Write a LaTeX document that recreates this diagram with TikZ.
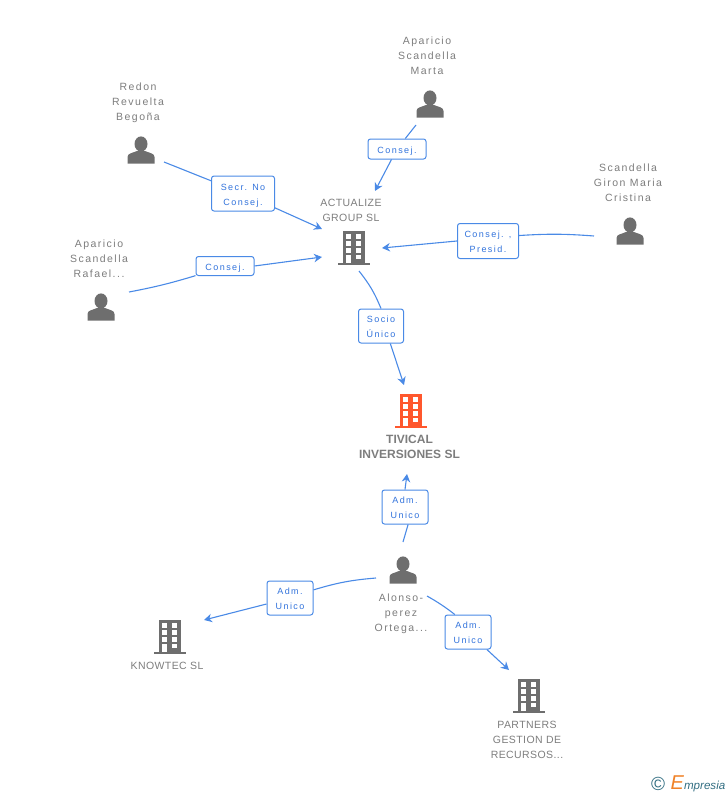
\documentclass[tikz,border=0pt]{standalone}
\usepackage{fontspec}
\usepackage{tikz}
\usetikzlibrary{arrows.meta,shapes}
\setmainfont{Liberation Sans}
\newfontfamily\namefont[LetterSpace=14]{Liberation Sans}
\newfontfamily\firmfont[LetterSpace=4]{Liberation Sans}
\newfontfamily\tagfont[LetterSpace=16]{Liberation Sans}
\definecolor{linkblue}{RGB}{74,138,230}
\definecolor{tagblue}{RGB}{50,115,220}
\definecolor{icongrey}{RGB}{110,110,110}
\definecolor{namegrey}{RGB}{125,125,125}
\definecolor{mainorange}{RGB}{255,87,45}
\definecolor{logoteal}{RGB}{50,110,130}
\definecolor{logoorange}{RGB}{240,130,40}
\tikzset{
  namelabel/.style={align=center,text=namegrey,font=\fontsize{10.5bp}{15bp}\selectfont\namefont,inner sep=0pt},
  firmlabel/.style={align=center,text=namegrey,font=\fontsize{10.5bp}{15bp}\selectfont\firmfont,inner sep=0pt},
  mainlabel/.style={align=center,text=namegrey,font=\fontsize{12bp}{15bp}\selectfont\bfseries,inner sep=0pt},
  taglabel/.style={draw=linkblue,line width=1bp,fill=white,rounded corners=2.5bp,align=center,text=tagblue,
    font=\fontsize{9bp}{15bp}\selectfont\tagfont,inner sep=0pt,text height=10bp},
  tagpair/.style={taglabel,text height=22.5bp},
  linkline/.style={draw=linkblue,line width=1.1bp},
  arrowline/.style={linkline,-{Stealth[length=8bp,width=8.5bp]}},
  personicon/.pic={
    \fill[icongrey] (0,6) ellipse (6.5 and 7.6);
    \fill[icongrey] (-13.5,-13.5) -- (-13.5,-7) .. controls (-13.5,-3) and (-8,-3) .. (-4,-1) -- (4,-1)
      .. controls (8,-3) and (13.5,-3) .. (13.5,-7) -- (13.5,-13.5) -- cycle;
  },
  buildingicon/.pic={
    \fill[pic actions] (-16,-17) rectangle (16,-14.7);
    \fill[pic actions] (-11.3,-16) rectangle (11.3,17);
    \foreach \wy in {8.7,2,-4.7} {
      \fill[white] (-7.7,\wy) rectangle (-2.7,\wy+5);
      \fill[white] (2,\wy) rectangle (7,\wy+5);
    }
    \fill[white] (-7.7,-14.7) rectangle (-2.7,-7);
    \fill[white] (2,-11.3) rectangle (7,-7);
  }
}

\begin{document}
\begin{tikzpicture}[x=1bp,y=1bp]
\useasboundingbox (0bp,0bp) rectangle (728bp,-795bp);

% people
\pic at (430bp,-104bp) {personicon};
\pic at (141bp,-150bp) {personicon};
\pic at (101bp,-307bp) {personicon};
\pic at (630bp,-231bp) {personicon};
\pic at (403bp,-570bp) {personicon};
% companies
\pic[fill=icongrey] at (354bp,-248bp) {buildingicon};
\pic[fill=mainorange] at (411bp,-411bp) {buildingicon};
\pic[fill=icongrey] at (170bp,-637bp) {buildingicon};
\pic[fill=icongrey] at (529bp,-696bp) {buildingicon};

\node (Marta) at (427bp,-56bp)[namelabel] {Aparicio\\Scandella\\Marta};
\node (Begona) at (138bp,-102.5bp)[namelabel] {Redon\\Revuelta\\Begoña};
\node (Rafael) at (99bp,-259bp)[namelabel] {Aparicio\\Scandella\\Rafael...};
\node (Cristina) at (628bp,-183bp)[namelabel] {Scandella\\Giron Maria\\Cristina};
\node (Alonso) at (401bp,-614bp)[namelabel] {Alonso-\\perez\\Ortega...};
\node (Actualize) at (351bp,-210bp)[firmlabel] {ACTUALIZE\\GROUP SL};
\node (Tivical) at (409.5bp,-447bp)[mainlabel] {TIVICAL\\INVERSIONES SL};
\node (Knowtec) at (167bp,-666bp)[firmlabel] {KNOWTEC SL};
\node (Partners) at (527bp,-740bp)[firmlabel] {PARTNERS\\GESTION DE\\RECURSOS...};

\node (TagMarta) at (397bp,-149bp)[taglabel,minimum width=58bp,minimum height=20bp] {Consej.};
\node (TagBegona) at (243bp,-193.5bp)[taglabel,text height=25bp,minimum width=63bp,minimum height=35bp] {Secr. No\\Consej.};
\node (TagRafael) at (225bp,-266bp)[taglabel,minimum width=58bp,minimum height=19bp] {Consej.};
\node (TagCristina) at (488bp,-241bp)[tagpair,minimum width=61bp,minimum height=35bp] {Consej. ,\\Presid.};
\node (TagSocio) at (381bp,-326bp)[tagpair,minimum width=45bp,minimum height=34bp] {Socio\\Único};
\node (TagTivical) at (405bp,-507bp)[tagpair,minimum width=46bp,minimum height=34bp] {Adm.\\Unico};
\node (TagKnowtec) at (290bp,-598bp)[tagpair,minimum width=46bp,minimum height=34bp] {Adm.\\Unico};
\node (TagPartners) at (468bp,-632bp)[tagpair,minimum width=46bp,minimum height=34bp] {Adm.\\Unico};

\coordinate (FromMarta) at (416bp,-125bp);
\coordinate (ToActualizeA) at (375bp,-191bp);
\coordinate (FromBegona) at (164bp,-162bp);
\coordinate (ToActualizeB) at (322bp,-229bp);
\coordinate (FromRafael) at (129bp,-292bp);
\coordinate (ToActualizeC) at (322bp,-257bp);
\coordinate (FromCristina) at (594bp,-236bp);
\coordinate (ToActualizeD) at (382bp,-248bp);
\coordinate (FromActualize) at (359bp,-271bp);
\coordinate (ToTivicalA) at (404bp,-385bp);
\coordinate (FromAlonsoA) at (403bp,-542bp);
\coordinate (ToTivicalB) at (407bp,-474bp);
\coordinate (FromAlonsoB) at (376bp,-578bp);
\coordinate (ToKnowtec) at (204bp,-620bp);
\coordinate (FromAlonsoC) at (427bp,-596bp);
\coordinate (ToPartners) at (509bp,-670bp);

\draw [linkline] (FromMarta) to (TagMarta);
\draw [arrowline] (TagMarta) to (ToActualizeA);
\draw [linkline] (FromBegona) to (TagBegona);
\draw [arrowline] (TagBegona) to (ToActualizeB);
\draw [linkline] (FromRafael) to[bend right=3] (TagRafael);
\draw [arrowline] (TagRafael.east) to (ToActualizeC);
\draw [linkline] (FromCristina) to[bend right=4] (TagCristina.10);
\draw [arrowline] (TagCristina.west) to (ToActualizeD);
\draw [linkline] (FromActualize) to[bend left=8] (TagSocio.north);
\draw [arrowline] (TagSocio.-62) to (ToTivicalA);
\draw [linkline] (FromAlonsoA) to (TagTivical.-80);
\draw [arrowline] (TagTivical.north) to (ToTivicalB);
\draw [linkline] (FromAlonsoB) to[bend right=6] (TagKnowtec);
\draw [arrowline] (TagKnowtec) to (ToKnowtec);
\draw [linkline] (FromAlonsoC) to[bend left=4] (TagPartners.127);
\draw [arrowline] (TagPartners) to (ToPartners);

\node (LogoMark) at (658bp,-784bp)[text=logoteal,font=\fontsize{19bp}{19bp}\selectfont,inner sep=0pt] {©};
\node (LogoText) at (698bp,-784bp)[text=logoteal,font=\fontsize{11.6bp}{12bp}\selectfont\itshape,inner sep=0pt] {\textcolor{logoorange}{\fontsize{20bp}{20bp}\selectfont E}mpresia};
\end{tikzpicture}
\end{document}
